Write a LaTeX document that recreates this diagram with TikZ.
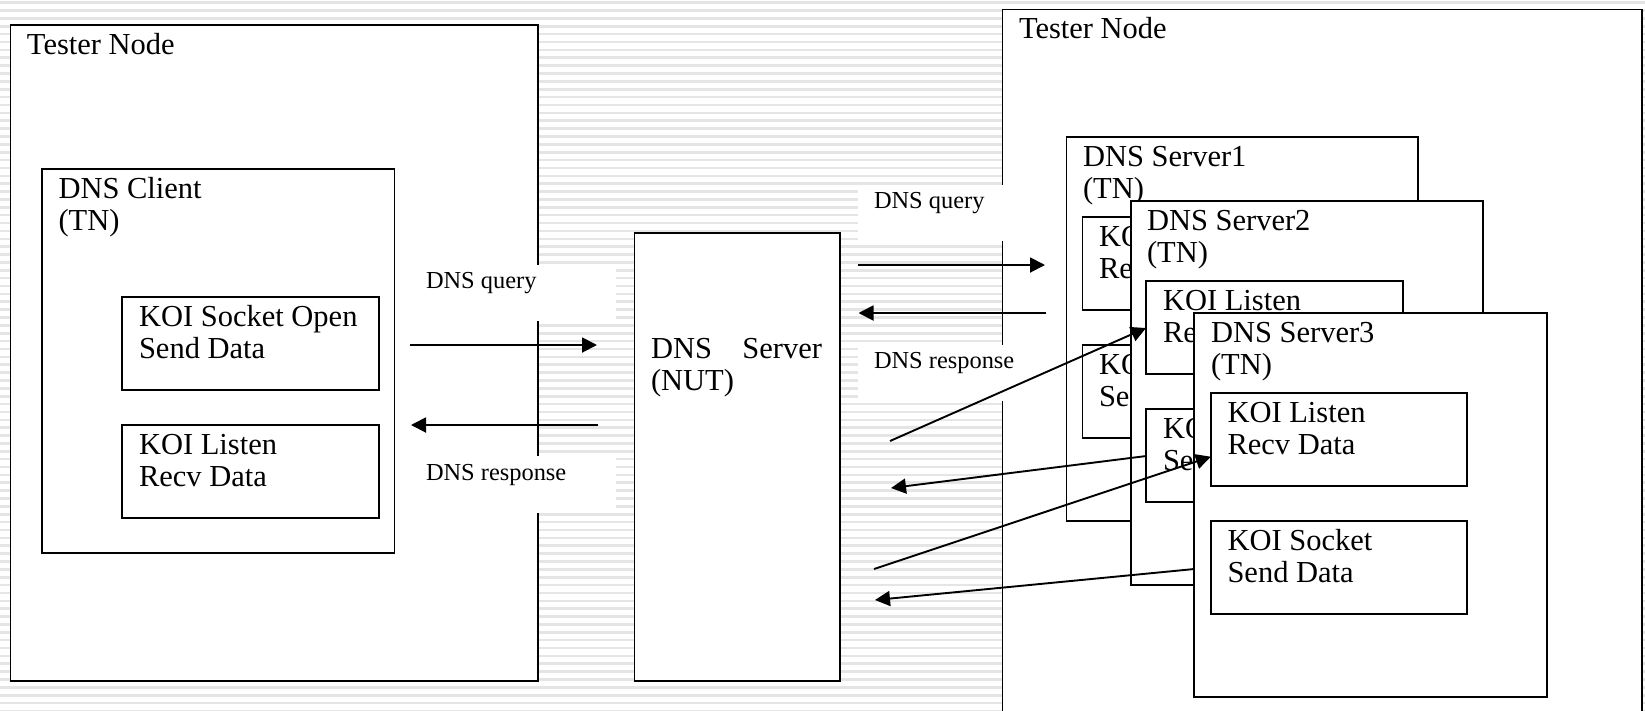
\documentclass[tikz,border=0pt]{standalone}
\usepackage{fontspec}
\setmainfont{Liberation Serif}
\usetikzlibrary{arrows.meta}
\newcommand{\bigtxt}{\fontsize{30.5}{32}\selectfont}
\newcommand{\smalltxt}{\fontsize{24.4}{28}\selectfont}
\newcommand{\twolines}[2]{\vtop{\baselineskip=32pt\hbox{#1}\hbox{#2}}}
\newcommand{\bx}[5]{%
  \pgfmathsetmacro{\bxw}{#4-#2}\pgfmathsetmacro{\bxh}{#5-#3}%
  \node[boxn,minimum width=\bxw pt,minimum height=\bxh pt] (#1) at (#2,#3) {};}
\newcommand{\wb}[5]{%
  \pgfmathsetmacro{\bxw}{#4-#2}\pgfmathsetmacro{\bxh}{#5-#3}%
  \node[whitebox,minimum width=\bxw pt,minimum height=\bxh pt] (#1) at (#2,#3) {};}
\tikzset{
  boxn/.style={draw=black,fill=white,line width=1.9pt,anchor=north west,inner sep=0pt,outer sep=0pt},
  whitebox/.style={fill=white,anchor=north west,inner sep=0pt,outer sep=0pt},
  big/.style={font=\bigtxt,anchor=base west,inner sep=0pt,outer sep=0pt,text=black},
  small/.style={font=\smalltxt,anchor=base west,inner sep=0pt,outer sep=0pt,text=black},
  conn/.style={line width=1.9pt,draw=black,-{Triangle[length=15pt,width=15pt]}},
  stripe/.style={fill=black!10,draw=none}
}
\begin{document}
\begin{tikzpicture}[x=1pt,y=-1pt]
\useasboundingbox (0,0) rectangle (1645,710);
\clip (0,0) rectangle (1645,710);
% striped background
\foreach \i in {0,...,90}{
  \pgfmathsetmacro{\yy}{2.7+7.87*\i}
  \fill[stripe] (0,\yy-1.3) rectangle (1645,\yy+1.3);
}
% left tester node
\bx{tnl}{10.5}{25}{538}{681}
\node[big] (tnlt) at (27,54) {Tester Node};
\bx{client}{42}{169}{394.5}{553}
\node[big] (clientt) at (58.5,198) {\twolines{DNS Client}{(TN)}};
\bx{copen}{122}{297}{379}{390}
\node[big] (copent) at (139,326) {\twolines{KOI Socket Open}{Send Data}};
\bx{clisten}{122}{425}{379}{518}
\node[big] (clistent) at (139,454) {\twolines{KOI Listen}{Recv Data}};
% NUT
\bx{nut}{634.5}{233}{840}{681}
\node[big] (nutt) at (651,358) {\twolines{\hbox to 171pt{DNS\hfill Server}}{(NUT)}};
% right tester node
\bx{tnr}{1002.5}{9.5}{1642}{740}
\node[big] (tnrt) at (1019,38) {Tester Node};
% server 1
\bx{sa}{1066.5}{136.7}{1418}{520.7}
\node[big] (sat) at (1083,166) {\twolines{DNS Server1}{(TN)}};
\bx{sal}{1082.5}{216.7}{1340}{310}
\node[big] (salt) at (1099,246) {\twolines{KOI Listen}{Recv Data}};
\bx{sas}{1082.5}{345}{1340}{438}
\node[big] (sast) at (1099,374) {\twolines{KOI Socket}{Send Data}};
% server 2
\bx{sb}{1130.7}{200.7}{1483}{585}
\node[big] (sbt) at (1147,230) {\twolines{DNS Server2}{(TN)}};
\bx{sbl}{1146.4}{280.7}{1402.6}{374.3}
\node[big] (sblt) at (1163,310) {\twolines{KOI Listen}{Recv Data}};
\bx{sbs}{1146.4}{408.7}{1402.6}{502}
\node[big] (sbst) at (1163,438) {\twolines{KOI Socket}{Send Data}};
% server 3
\bx{sc}{1194.4}{312.7}{1547}{697}
\node[big] (sct) at (1211,342) {\twolines{DNS Server3}{(TN)}};
\bx{scl}{1210.8}{392.7}{1466.6}{486}
\node[big] (sclt) at (1227.5,422) {\twolines{KOI Listen}{Recv Data}};
\bx{scs}{1210.8}{520.7}{1466.6}{614}
\node[big] (scst) at (1227.5,550) {\twolines{KOI Socket}{Send Data}};
% white label patches
\wb{wq}{410}{265}{616}{321}
\node[small] (lq) at (426,288) {DNS query};
\wb{wr}{410}{456}{616}{513}
\node[small] (lr) at (426,480) {DNS response};
\wb{wq2}{858}{185}{1064}{241}
\node[small] (lq2) at (874,208) {DNS query};
\wb{wr2}{858}{345}{1064}{401}
\node[small] (lr2) at (874,368) {DNS response};
% free ends
\coordinate (a1) at (410,345); \coordinate (a2) at (597,345);
\coordinate (b1) at (598,425); \coordinate (b2) at (411,425);
\coordinate (c1) at (858,265); \coordinate (c2) at (1045,265);
\coordinate (d1) at (1046,313); \coordinate (d2) at (858.5,313);
\coordinate (e1) at (890,441); \coordinate (e2) at (1146,328);
\coordinate (f1) at (1146.4,456); \coordinate (f2) at (891,488);
\coordinate (g1) at (874,569); \coordinate (g2) at (1210.8,456.7);
\coordinate (h1) at (1194.4,569); \coordinate (h2) at (875,600);
\foreach \s/\t in {a1/a2,b1/b2,c1/c2,d1/d2,e1/e2,f1/f2,g1/g2,h1/h2}
  \draw[conn] (\s) -- (\t);
\end{tikzpicture}
\end{document}
